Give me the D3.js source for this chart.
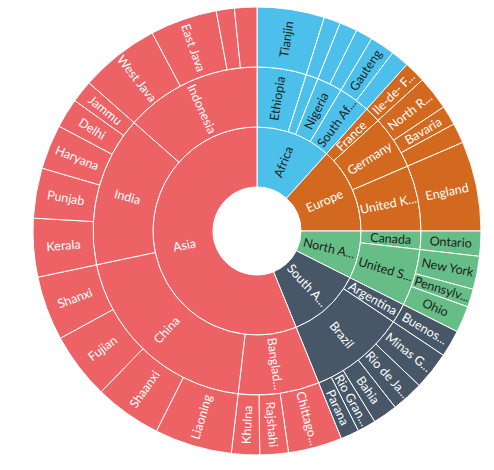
<!DOCTYPE html>
<html>
<head>
<meta charset="utf-8">
<script src="https://d3js.org/d3.v7.min.js"></script>
<style>
  body { margin: 0; background: #fff; }
  svg { display: block; }
  text { font-family: Lato, sans-serif; font-size: 12.5px; }
</style>
</head>
<body>
<div id="chart"></div>
<script>
// Size of the page and of the rings
const w = 494;
const h = 470;
const cx = 257;
const cy = 231;
const holeRadius = 44;
const outerRadius = 224;

// One row per outer segment: continent, country, state and its value
const leafContinent = [
  "Africa", "Africa", "Africa", "Africa", "Africa", "Africa",
  "Europe", "Europe", "Europe", "Europe", "Europe",
  "North America", "North America", "North America", "North America",
  "South America", "South America", "South America", "South America", "South America", "South America",
  "Asia", "Asia", "Asia", "Asia", "Asia", "Asia", "Asia", "Asia", "Asia",
  "Asia", "Asia", "Asia", "Asia", "Asia", "Asia", "Asia"
];
const leafCountry = [
  "Ethiopia", "", "Nigeria", "Nigeria", "South Africa", "South Africa",
  "France", "Germany", "Germany", "Germany", "United Kingdom",
  "Canada", "United States", "United States", "United States",
  "Argentina", "Brazil", "Brazil", "Brazil", "Brazil", "Brazil",
  "Bangladesh", "Bangladesh", "Bangladesh", "China", "China", "China", "China",
  "India", "India", "India", "India", "India",
  "Indonesia", "Indonesia", "Indonesia", "Indonesia"
];
const leafState = [
  "Tianjin", "", "", "", "Gauteng", "",
  "Ile-de- France", "North Rhine-Westphalia", "Bavaria", "", "England",
  "Ontario", "New York", "Pennsylvania", "Ohio",
  "Buenos Aires", "Minas Gerais", "Rio de Janeiro", "Bahia", "Rio Grande do Sul", "Parana",
  "Chittagong", "Rajshahi", "Khulna", "Liaoning", "Shaanxi", "Fujian", "Shanxi",
  "Kerala", "Punjab", "Haryana", "Delhi", "Jammu",
  "West Java", "East Java", "", ""
];
const leafValue = [
  17.5, 4.3, 4.6, 4.4, 6.5, 4.7,
  5.6, 8.8, 5.1, 5.2, 23.3,
  6.5, 8.6, 4.7, 6.9,
  7.0, 9.9, 8.3, 6.4, 4.8, 4.8,
  14.0, 7.4, 7.3, 20.1, 17.4, 17.3, 16.7,
  15.2, 13.0, 11.6, 7.7, 5.8,
  20.7, 17.4, 4.7, 5.8
];

// Colour of each continent and of the text drawn on it
const continentNames = ["Africa", "Europe", "North America", "South America", "Asia"];
const continentColors = ["#4cc0ea", "#d2691e", "#66bd86", "#475767", "#ec6265"];
const continentText = ["#1e1e1e", "#ffffff", "#1e1e1e", "#ffffff", "#ffffff"];

// Builds a plain tree: continent -> country -> state
const tree = { name: "root", children: [] };
leafValue.forEach((v, i) => {
  let cont = tree.children.find(c => c.name === leafContinent[i]);
  if (!cont) { cont = { name: leafContinent[i], children: [] }; tree.children.push(cont); }
  let ctry = cont.children.find(c => c.name === leafCountry[i]);
  if (!ctry) { ctry = { name: leafCountry[i], children: [] }; cont.children.push(ctry); }
  ctry.children.push({ name: leafState[i], value: v });
});

const root = d3.hierarchy(tree).sum(d => d.value || 0);

// Partition gives angles in x and the ring number in y
d3.partition().size([2 * Math.PI, 4])(root);

const radius = d3.scaleLinear()
.domain([1, 4])
.range([holeRadius, outerRadius]);

const colorScale = d3.scaleOrdinal().domain(continentNames).range(continentColors);
const textScale = d3.scaleOrdinal().domain(continentNames).range(continentText);

const arc = d3.arc()
.startAngle(d => d.x0)
.endAngle(d => d.x1)
.innerRadius(d => radius(d.y0))
.outerRadius(d => radius(d.y1));

const svg = d3.select("#chart")
.append("svg")
.attr("width", w)
.attr("height", h);

const g = svg.append("g")
.attr("transform", `translate(${cx},${cy})`);

// Finds the continent of any node
const continentOf = d => d.ancestors().find(a => a.depth === 1).data.name;

const nodes = root.descendants().filter(d => d.depth > 0);

// Draws one path per segment
g.selectAll("path")
.data(nodes)
.enter()
.append("path")
.attr("d", arc)
.attr("fill", d => colorScale(continentOf(d)))
.attr("stroke", "#ffffff")
.attr("stroke-width", 1);

// Labels run along the radius, never upside down
const maxWidth = 58;
const labels = g.selectAll("text")
.data(nodes.filter(d => d.data.name))
.enter()
.append("text")
.attr("transform", d => {
  const a = (d.x0 + d.x1) / 2 * 180 / Math.PI;
  const r = (radius(d.y0) + radius(d.y1)) / 2;
  const flip = a < 180 ? 0 : 180;
  return `rotate(${a - 90}) translate(${r},0) rotate(${flip})`;
})
.attr("text-anchor", "middle")
.attr("dy", "0.35em")
.attr("fill", d => textScale(continentOf(d)))
.text(d => d.data.name);

// Shortens text that does not fit in the ring and hides very thin segments
labels.each(function(d) {
  const el = d3.select(this);
  const r = (radius(d.y0) + radius(d.y1)) / 2;
  if ((d.x1 - d.x0) * r < 13) { el.remove(); return; }
  const full = d.data.name;
  if (this.getComputedTextLength() <= maxWidth) return;
  let n = full.length;
  while (n > 1) {
    n--;
    el.text(full.slice(0, n).trimEnd() + "...");
    if (this.getComputedTextLength() <= maxWidth) break;
  }
});
</script>
</body>
</html>
